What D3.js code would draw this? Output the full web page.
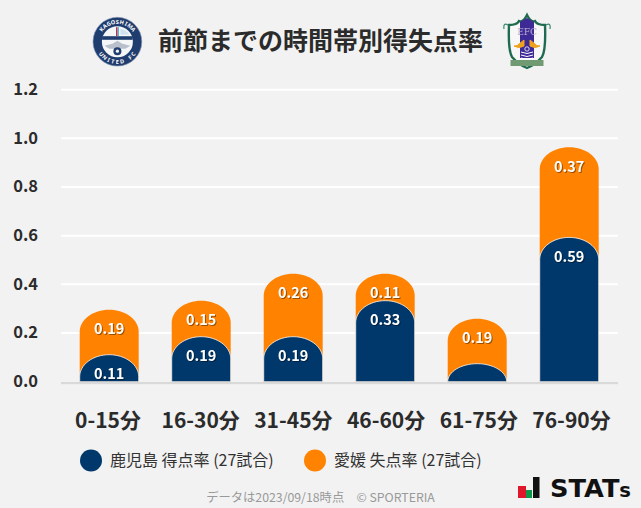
<!DOCTYPE html>
<html><head><meta charset="utf-8">
<script src="https://cdn.jsdelivr.net/npm/d3@7/dist/d3.min.js"></script>
<style>html,body{margin:0;padding:0;background:#f2f2f2}svg{display:block}text{font-family:"Noto Sans CJK JP","Noto Sans",sans-serif}.v{filter:drop-shadow(1px 1px 0 rgba(0,0,0,.4))}</style>
</head><body><svg id="c" width="641" height="508"></svg>
<script>
const categories=["0-15分","16-30分","31-45分","46-60分","61-75分","76-90分"];
const scored=[0.111,0.185,0.185,0.333,0.074,0.593];
const scoredLabels=["0.11","0.19","0.19","0.33","","0.59"];
const conceded=[0.185,0.148,0.259,0.111,0.185,0.370];
const concededLabels=["0.19","0.15","0.26","0.11","0.19","0.37"];
const yTicks=[0,0.2,0.4,0.6,0.8,1.0,1.2];
const legendNames=["鹿児島 得点率 (27試合)","愛媛 失点率 (27試合)"];
const colors=["#00386b","#ff8200"];
const svg=d3.select("#c");
svg.append("rect").attr("width",641).attr("height",508).attr("fill","#f2f2f2");
const x=d3.scaleBand().domain(categories).range([60.2,618.2]).paddingInner(0.359).paddingOuter(0.212);
const xLabel=d3.scalePoint().domain(categories).range([108,571.5]);
const y=d3.scaleLinear().domain([0,1.2]).range([381.7,89.7]);
svg.append("g").selectAll("line").data(yTicks.filter(d=>d>0)).join("line").attr("x1",61).attr("x2",618)
 .attr("y1",d=>y(d)).attr("y2",d=>y(d)).attr("stroke","#fff").attr("stroke-width",2);
svg.append("g").selectAll("text").data(yTicks).join("text").attr("x",38).attr("y",d=>y(d)+5.2)
 .attr("text-anchor","end").attr("font-size",16.5).attr("font-weight",700).attr("fill","#2b2b2b").text(d=>d.toFixed(1));
function topRound(xl,w,yt,yb){const rx=w/2,ry=Math.min(22,yb-yt);
 return `M${xl},${yb}V${yt+ry}C${xl},${yt+ry*0.45} ${xl+rx*0.45},${yt} ${xl+rx},${yt}C${xl+w-rx*0.45},${yt} ${xl+w},${yt+ry*0.45} ${xl+w},${yt+ry}V${yb}Z`;}
categories.forEach((c,i)=>{
 const xl=x(c),w=x.bandwidth();
 const t=scored[i]+conceded[i];
 svg.append("path").attr("d",topRound(xl,w,y(t),y(0))).attr("fill",colors[1]);
 svg.append("path").attr("d",topRound(xl,w,y(scored[i]),y(0))).attr("fill",colors[0]).attr("stroke","#fff").attr("stroke-opacity",.75).attr("stroke-width",1);
 svg.append("text").attr("class","v").attr("x",xl+w/2).attr("y",y(t)+24.5).attr("text-anchor","middle").attr("font-size",14.5).attr("font-weight",700).attr("fill","#fff").text(concededLabels[i]);
 if(scoredLabels[i]) svg.append("text").attr("class","v").attr("x",xl+w/2).attr("y",y(scored[i])+24.5).attr("text-anchor","middle").attr("font-size",14.5).attr("font-weight",700).attr("fill","#fff").text(scoredLabels[i]);
 svg.append("text").attr("x",xLabel(c)).attr("y",428).attr("text-anchor","middle").attr("font-size",21).attr("font-weight",700).attr("fill","#2b2b2b").text(c);
});
svg.append("rect").attr("x",61).attr("y",382).attr("width",557).attr("height",2.2).attr("fill","#d9d9d9");
svg.append("text").attr("x",320.5).attr("y",50).attr("text-anchor","middle").attr("font-size",25).attr("font-weight",700).attr("fill","#2b2b2b").text("前節までの時間帯別得失点率");
[[91,110],[315,334]].forEach((p,i)=>{
 svg.append("circle").attr("cx",p[0]).attr("cy",460.5).attr("r",11).attr("fill",colors[i]);
 svg.append("text").attr("x",p[1]).attr("y",466).attr("font-size",16).attr("fill","#333").text(legendNames[i]);
});
svg.append("text").attr("x",320.5).attr("y",502).attr("text-anchor","middle").attr("font-size",12.3).attr("fill","#999").text("データは2023/09/18時点　© SPORTERIA");
// STATS logo
svg.append("rect").attr("x",518).attr("y",486).attr("width",8).attr("height",12).attr("fill","#e0162b");
svg.append("rect").attr("x",526).attr("y",490).attr("width",6).attr("height",8).attr("fill","#0a9a4a");
svg.append("rect").attr("x",533).attr("y",477).attr("width",6.5).attr("height",21).attr("fill","#111");
const st=svg.append("text").attr("x",550).attr("y",497).attr("textLength",81).attr("lengthAdjust","spacingAndGlyphs")
 .attr("font-size",25).attr("font-weight",700).attr("fill","#111").style("font-family","DejaVu Sans");
st.append("tspan").text("STAT");st.append("tspan").attr("font-size",19).text("s");
// left crest
const l=svg.append("g").attr("transform","translate(117.4,41.7)");
l.append("circle").attr("r",24.4).attr("fill","#1f3d6e").attr("stroke","#8c9bb5").attr("stroke-width",.6);
l.append("circle").attr("r",15.5).attr("fill","#f4f6f8");
l.append("path").attr("d","M-13,4L-5,2L0,-1L5,2L13,4L8,7H-8Z").attr("fill","#b9c0cb");
l.append("rect").attr("x",-15.3).attr("y",-5.5).attr("width",30.6).attr("height",3.6).attr("fill","#1f3d6e");
l.append("rect").attr("x",-1.4).attr("y",-14.5).attr("width",1.5).attr("height",9).attr("fill","#d8263c");
l.append("rect").attr("x",.1).attr("y",-14.5).attr("width",1.3).attr("height",9).attr("fill","#2ba6d8");
l.append("path").attr("d","M3,-13Q9,-12 12,-7H3Z").attr("fill","#cfe2ee");
l.append("circle").attr("cy",9.5).attr("r",4).attr("fill","#1f3d6e");
l.append("circle").attr("cy",9.5).attr("r",1.6).attr("fill","#f4f6f8");
const crestT=(s,top)=>{const n=s.length;[...s].forEach((ch,i)=>{
 const a=(i-(n-1)/2)*13;
 l.append("text").attr("font-size",5.6).attr("font-weight",700).attr("fill","#fff").attr("text-anchor","middle").style("font-family","Noto Sans")
  .attr("transform",top?`rotate(${a}) translate(0,-18)`:`rotate(${-a}) translate(0,22.2)`).text(ch);
});};
crestT("KAGOSHIMA",true);crestT("UNITED FC",false);
// right crest
const r=svg.append("g").attr("transform","translate(527,42)");
r.append("path").attr("d","M-18,-17Q-10,-17 -8,-21Q-4,-19 0,-27Q4,-19 8,-21Q10,-17 18,-17Q19,8 15,15Q8,23 0,26Q-8,23 -15,15Q-19,8 -18,-17Z").attr("fill","#f7f7f7").attr("stroke","#1f6b4f").attr("stroke-width",2.4);
r.append("path").attr("d","M-19,-17Q-24,-20 -23,-13M19,-17Q24,-20 23,-13").attr("fill","none").attr("stroke","#3d8a70").attr("stroke-width",1.2);
r.append("path").attr("d","M-7,-20L0,-24L7,-20V16H-7Z").attr("fill","#3e2a96");
r.append("text").attr("y",-7).attr("text-anchor","middle").attr("font-size",9).attr("fill","#b9aed0").style("font-family","DejaVu Serif").text("EFC");
r.append("path").attr("d","M-3,-2V4Q-8,7 -13,4Q-9,4 -8,2ZM3,-2V4Q8,7 13,4Q9,4 8,2Z").attr("fill","#f0a21e").attr("stroke","#f0a21e");
r.append("path").attr("d","M-6,10Q0,13 6,10M-6,13Q0,16 6,13M-6,16Q0,19 6,16").attr("fill","none").attr("stroke","#fff").attr("stroke-width",1);
r.append("circle").attr("cy",7).attr("r",2.2).attr("fill","none").attr("stroke","#fff").attr("stroke-width",.8);
r.append("rect").attr("x",-16.5).attr("y",18).attr("width",33).attr("height",6).attr("fill","#6f9a72");
</script></body></html>
